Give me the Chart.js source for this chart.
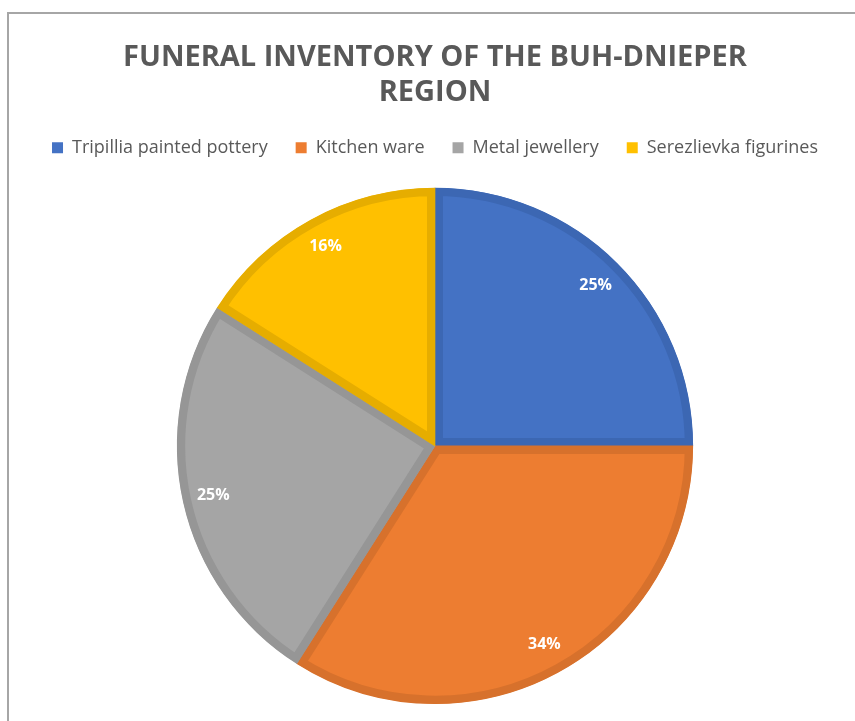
<!DOCTYPE html>
<html>
<head>
<meta charset="utf-8">
<script src="https://cdn.jsdelivr.net/npm/chart.js@4"></script>
<style>
    body { margin: 0; background: #ffffff; }
    #frame {
        position: absolute; left: 7px; top: 12px; width: 860px; height: 720px;
        border-top: 2px solid #a6a6a6; border-left: 2px solid #a6a6a6;
    }
    #wrap { position: absolute; left: 0; top: 0; width: 855px; height: 721px; }
</style>
</head>
<body>
<div id="frame"></div>
<div id="wrap"><canvas id="pieChart"></canvas></div>
<script>
const categories = ['Tripillia painted pottery', 'Kitchen ware', 'Metal jewellery', 'Serezlievka figurines'];
const shares = [25, 34, 25, 16];
const fillColors = ['#4472c4', '#ed7d31', '#a5a5a5', '#ffc000'];
const edgeColors = ['#3c67b3', '#d7712c', '#969696', '#e6ad00'];

// white percentage labels placed inside each slice
const sliceLabels = {
    id: 'sliceLabels',
    afterDatasetsDraw(chart) {
        const ctx = chart.ctx;
        const meta = chart.getDatasetMeta(0);
        const total = shares.reduce((a, b) => a + b, 0);
        ctx.save();
        ctx.fillStyle = '#ffffff';
        ctx.font = 'bold 16px "Open Sans"';
        ctx.textAlign = 'center';
        ctx.textBaseline = 'middle';
        meta.data.forEach((arc, i) => {
            const p = arc.getProps(['x', 'y', 'startAngle', 'endAngle', 'outerRadius'], true);
            const mid = (p.startAngle + p.endAngle) / 2;
            const r = p.outerRadius * 0.88;
            const pct = Math.round(shares[i] / total * 100) + '%';
            ctx.fillText(pct, p.x + Math.cos(mid) * r, p.y + Math.sin(mid) * r);
        });
        ctx.restore();
    }
};

// leave some room between the legend and the pie
const legendGap = {
    id: 'legendGap',
    beforeInit(chart) {
        const origFit = chart.legend.fit;
        chart.legend.fit = function () {
            origFit.bind(chart.legend)();
            this.height += 21;
        };
    }
};

const ctx = document.getElementById('pieChart').getContext('2d');
const pieChart = new Chart(ctx, {
    type: 'pie',
    data: {
        labels: categories,
        datasets: [{
            data: shares,
            backgroundColor: fillColors,
            borderColor: edgeColors,
            borderWidth: 8,
            borderAlign: 'inner'
        }]
    },
    options: {
        responsive: true,
        maintainAspectRatio: false,
        animation: false,
        layout: { padding: { left: 15, right: 0, top: 40, bottom: 17 } },
        plugins: {
            title: {
                display: true,
                text: ['FUNERAL INVENTORY OF THE BUH-DNIEPER', 'REGION'],
                color: '#595959',
                font: { family: '"Open Sans"', size: 29, weight: 'bold', lineHeight: 1.22 },
                padding: { top: 0, bottom: 0 }
            },
            legend: {
                position: 'top',
                labels: {
                    color: '#595959',
                    font: { family: '"Open Sans"', size: 18 },
                    boxWidth: 11,
                    boxHeight: 11,
                    padding: 28,
                    generateLabels(chart) {
                        return categories.map((name, i) => ({
                            text: name,
                            fillStyle: fillColors[i],
                            strokeStyle: fillColors[i],
                            lineWidth: 0,
                            fontColor: '#595959',
                            hidden: false,
                            index: i
                        }));
                    }
                }
            },
            tooltip: { enabled: false }
        }
    },
    plugins: [sliceLabels, legendGap]
});
</script>
</body>
</html>
